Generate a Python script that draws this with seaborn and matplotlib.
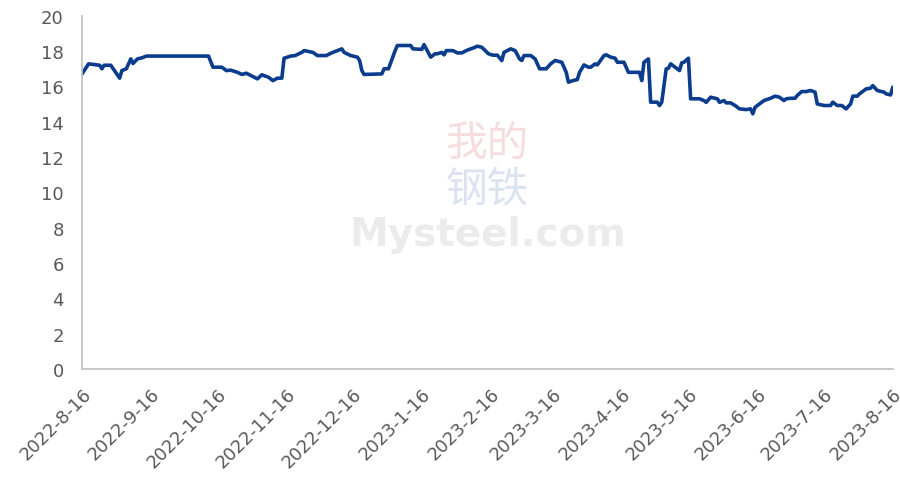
import numpy as np
import pandas as pd
import matplotlib
matplotlib.use("Agg")
import matplotlib.pyplot as plt
import matplotlib.transforms as mtransforms
import seaborn as sns

start_date = "2022-08-16"
day_offsets = [0, 3, 8, 9, 10, 13, 17, 18, 20, 22, 23, 25, 27, 29, 57, 59, 63, 65, 67, 70,
               72, 74, 76, 79, 81, 84, 86, 88, 90, 91, 94, 96, 99, 100, 104, 106, 110, 112, 115, 117,
               118, 121, 124, 125, 126, 127, 135, 136, 138, 141, 142, 148, 149, 153, 154, 157, 159, 160, 162, 163,
               164, 167, 169, 171, 173, 175, 176, 178, 180, 183, 185, 187, 189, 190, 193, 195, 197, 198, 199, 202,
               204, 206, 209, 211, 213, 216, 218, 219, 221, 223, 224, 226, 228, 229, 231, 232, 235, 236, 238, 240,
               241, 244, 246, 251, 252, 253, 255, 256, 259, 260, 261, 263, 264, 265, 267, 269, 270, 271, 273, 274,
               278, 280, 281, 283, 286, 287, 289, 290, 292, 294, 296, 299, 301, 302, 303, 305, 307, 310, 312, 314,
               316, 317, 319, 321, 322, 324, 326, 328, 330, 331, 334, 337, 338, 340, 342, 344, 346, 347, 349, 350,
               353, 355, 356, 358, 361, 362, 364, 365]
values = [16.70, 17.28, 17.20, 17.00, 17.20, 17.20, 16.47, 16.90, 17.00, 17.56, 17.30, 17.56, 17.62, 17.72, 17.72, 17.09, 17.09, 16.90, 16.92, 16.80,
          16.68, 16.75, 16.62, 16.43, 16.66, 16.52, 16.33, 16.47, 16.47, 17.60, 17.72, 17.75, 17.93, 18.03, 17.93, 17.75, 17.75, 17.88, 18.03, 18.13,
          17.93, 17.75, 17.66, 17.47, 16.90, 16.68, 16.71, 17.00, 17.00, 18.03, 18.32, 18.32, 18.13, 18.10, 18.37, 17.66, 17.85, 17.85, 17.93, 17.79,
          18.03, 18.03, 17.90, 17.90, 18.03, 18.13, 18.17, 18.28, 18.22, 17.85, 17.77, 17.77, 17.47, 17.93, 18.13, 18.03, 17.56, 17.47, 17.75, 17.75,
          17.56, 17.00, 17.00, 17.28, 17.47, 17.37, 16.80, 16.24, 16.33, 16.39, 16.80, 17.22, 17.09, 17.09, 17.28, 17.22, 17.75, 17.79, 17.66, 17.60,
          17.37, 17.37, 16.80, 16.80, 16.33, 17.37, 17.56, 15.11, 15.11, 14.92, 15.11, 17.00, 17.03, 17.28, 17.09, 16.90, 17.34, 17.37, 17.60, 15.30,
          15.30, 15.20, 15.10, 15.39, 15.30, 15.10, 15.20, 15.07, 15.07, 14.92, 14.73, 14.69, 14.73, 14.45, 14.82, 15.01, 15.20, 15.33, 15.45, 15.39,
          15.20, 15.30, 15.33, 15.33, 15.49, 15.71, 15.71, 15.77, 15.68, 15.01, 14.92, 14.92, 15.11, 14.92, 14.92, 14.73, 15.01, 15.45, 15.45, 15.58,
          15.86, 15.90, 16.05, 15.77, 15.68, 15.58, 15.52, 15.96]
tick_labels = ["2022-8-16", "2022-9-16", "2022-10-16", "2022-11-16", "2022-12-16", "2023-1-16",
               "2023-2-16", "2023-3-16", "2023-4-16", "2023-5-16", "2023-6-16", "2023-7-16", "2023-8-16"]
y_ticks = [0, 2, 4, 6, 8, 10, 12, 14, 16, 18, 20]

df = pd.DataFrame({
    "date": pd.Timestamp(start_date) + pd.to_timedelta(day_offsets, unit="D"),
    "value": values,
})

sns.set_theme(style="white")
plt.rcParams["font.family"] = ["DejaVu Sans"]

fig = plt.figure(figsize=(9, 4.81), dpi=100)
ax = fig.add_axes([0.091, 0.231, 0.901, 0.734])

sns.lineplot(data=df, x="date", y="value", ax=ax, color="#0B3C8D", linewidth=2.6)

# watermark
ax.text(0.5, 0.637, "我的", transform=ax.transAxes, ha="center", va="center",
        fontsize=30, color="#E8A0A0", alpha=0.35, family=["Noto Sans CJK SC", "DejaVu Sans"])
ax.text(0.5, 0.51, "钢铁", transform=ax.transAxes, ha="center", va="center",
        fontsize=30, color="#9BB0D6", alpha=0.35, family=["Noto Sans CJK SC", "DejaVu Sans"])
ax.text(0.5, 0.382, "Mysteel.com", transform=ax.transAxes, ha="center", va="center",
        fontsize=28, color="#C8C8C8", alpha=0.35, fontweight="bold")

tick_dates = pd.to_datetime(tick_labels, format="%Y-%m-%d")
ax.set_xticks(tick_dates)
ax.set_xticklabels(tick_labels, rotation=45, ha="right", va="top", rotation_mode="anchor")
offset = mtransforms.ScaledTranslation(5 / 72, 0, fig.dpi_scale_trans)
for lbl in ax.get_xticklabels():
    lbl.set_transform(lbl.get_transform() + offset)
ax.set_xlim(tick_dates[0], tick_dates[-1])
ax.set_ylim(0, 20)
ax.set_yticks(y_ticks)
ax.set_xlabel("")
ax.set_ylabel("")

for side in ["top", "right"]:
    ax.spines[side].set_visible(False)
for side in ["left", "bottom"]:
    ax.spines[side].set_color("#BFBFBF")
    ax.spines[side].set_linewidth(1.2)

ax.tick_params(axis="both", which="both", direction="out", length=5, width=1.2,
               color="#BFBFBF", labelcolor="#595959", labelsize=13)
ax.tick_params(axis="x", pad=6)
ax.tick_params(axis="y", pad=8)

fig.savefig("out.png", dpi=100)
